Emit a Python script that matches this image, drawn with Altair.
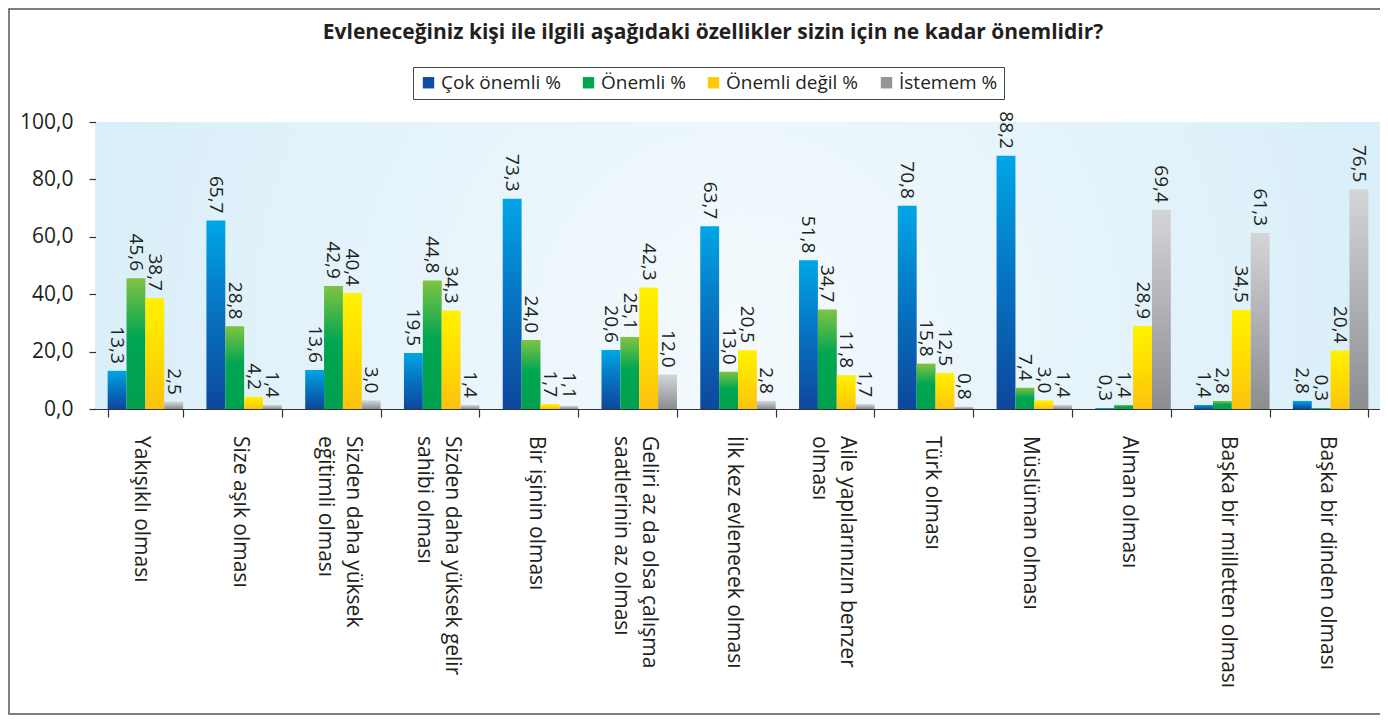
import altair as alt
import pandas as pd

# ---- data ----
categories = [
    "Yakışıklı olması",
    "Size aşık olması",
    "Sizden daha yüksek|eğitimli olması",
    "Sizden daha yüksek gelir|sahibi olması",
    "Bir işinin olması",
    "Geliri az da olsa çalışma|saatlerinin az olması",
    "İlk kez evlenecek olması",
    "Aile yapılarınızın benzer|olması",
    "Türk olması",
    "Müslüman olması",
    "Alman olması",
    "Başka bir milletten olması",
    "Başka bir dinden olması",
]
cok_onemli = [13.3, 65.7, 13.6, 19.5, 73.3, 20.6, 63.7, 51.8, 70.8, 88.2, 0.3, 1.4, 2.8]
onemli = [45.6, 28.8, 42.9, 44.8, 24.0, 25.1, 13.0, 34.7, 15.8, 7.4, 1.4, 2.8, 0.3]
onemli_degil = [38.7, 4.2, 40.4, 34.3, 1.7, 42.3, 20.5, 11.8, 12.5, 3.0, 28.9, 34.5, 20.4]
istemem = [2.5, 1.4, 3.0, 1.4, 1.1, 12.0, 2.8, 1.7, 0.8, 1.4, 69.4, 61.3, 76.5]

series_names = ["Çok önemli %", "Önemli %", "Önemli değil %", "İstemem %"]
legend_colors = ["#0d4ea2", "#00a651", "#ffcb05", "#939598"]
y_ticks = [0, 20, 40, 60, 80, 100]
title_text = "Evleneceğiniz kişi ile ilgili aşağıdaki özellikler sizin için ne kadar önemlidir?"

series_values = [cok_onemli, onemli, onemli_degil, istemem]
rows = []
for i, c in enumerate(categories):
    for s, vals in zip(series_names, series_values):
        rows.append({"category": c, "series": s, "value": vals[i]})
df = pd.DataFrame(rows)

# category tick-label lines (split where the reference wraps)
label_rows = []
for c in categories:
    parts = c.split("|")
    if len(parts) == 1:
        label_rows.append({"category": c, "line": parts[0], "kind": "single"})
    else:
        label_rows.append({"category": c, "line": parts[0], "kind": "first"})
        label_rows.append({"category": c, "line": parts[1], "kind": "second"})
label_df = pd.DataFrame(label_rows)

FONT = "Open Sans"
TEXT = "#231f20"

gradients = {
    "Çok önemli %": [("#00a6e6", 0.0), ("#0672c0", 0.5), ("#0e479c", 1.0)],
    "Önemli %": [("#80c342", 0.0), ("#00a651", 0.45), ("#00a04e", 1.0)],
    "Önemli değil %": [("#fff200", 0.0), ("#ffdc00", 0.5), ("#fdc20f", 1.0)],
    "İstemem %": [("#d4d5d7", 0.0), ("#b0b1b4", 0.5), ("#8b8d90", 1.0)],
}


def lin(stops):
    return {
        "gradient": "linear",
        "x1": 0, "y1": 0, "x2": 0, "y2": 1,
        "stops": [{"offset": o, "color": c} for c, o in stops],
    }


x_enc = alt.X(
    "category:N",
    sort=categories,
    scale=alt.Scale(paddingInner=0.236, paddingOuter=0.118),
    axis=alt.Axis(
        title=None,
        labels=False,
        tickBand="extent",
        tickSize=8,
    ),
)
y_enc = alt.Y(
    "value:Q",
    scale=alt.Scale(domain=[0, 100], nice=False),
    axis=alt.Axis(
        title=None,
        values=y_ticks,
        labelExpr="replace(format(datum.value, '.1f'), '.', ',')",
        tickSize=7,
        labelPadding=16,
        labelFontSize=21,
        grid=False,
    ),
)
xo_enc = alt.XOffset("series:N", scale=alt.Scale(domain=series_names), sort=series_names)

base = (
    alt.Chart(df)
    .transform_calculate(label="replace(format(datum.value, '.1f'), '.', ',')")
    .encode(x=x_enc, xOffset=xo_enc, y=y_enc)
)

one = pd.DataFrame({"k": [0]})
background = alt.Chart(one).mark_rect(
    fill={
        "gradient": "radial",
        "x1": 0.5, "y1": 0.55, "r1": 0,
        "x2": 0.5, "y2": 0.55, "r2": 0.75,
        "stops": [
            {"offset": 0, "color": "#f4fafd"},
            {"offset": 1, "color": "#cde9f7"},
        ],
    }
).encode(x=alt.value(0), x2=alt.value("width"), y=alt.value(0), y2=alt.value("height"))

legend_layer = base.mark_bar(opacity=0).encode(
    color=alt.Color(
        "series:N",
        scale=alt.Scale(domain=series_names, range=legend_colors),
        legend=alt.Legend(
            title=None,
            orient="none",
            legendX=317,
            legendY=-55,
            direction="horizontal",
            columns=4,
            symbolType="square",
            symbolSize=130,
            symbolOpacity=1,
            symbolStrokeWidth=0,
            labelFontSize=19,
            labelFont=FONT,
            labelColor=TEXT,
            strokeColor="#444",
            padding=6,
            columnPadding=18,
            labelOffset=3,
        ),
    )
)

grad_layers = [
    base.transform_filter(alt.datum.series == s).mark_bar(color=lin(gradients[s]))
    for s in series_names
]

labels = base.mark_text(
    angle=90, align="right", baseline="middle", dx=-7, fontSize=19, font=FONT, color=TEXT
).encode(text="label:N")

# category labels under the axis, rotated like the reference
cat_layers = [
    alt.Chart(label_df)
    .transform_filter(alt.datum.kind == kind)
    .mark_text(angle=90, align="left", baseline="middle", dy=shift,
               fontSize=21, font=FONT, color=TEXT)
    .encode(x=x_enc, y=alt.value(314), text="line:N")
    for kind, shift in [("single", 4), ("first", -10), ("second", 18)]
]

frame = alt.Chart(one).mark_rect(filled=False, stroke="#555", strokeWidth=1.5).encode(
    x=alt.value(-87), x2=alt.value(1400), y=alt.value(-113), y2=alt.value(592)
)

chart = (
    alt.layer(background, legend_layer, *grad_layers, labels, *cat_layers, frame)
    .properties(
        width=1284,
        height=287,
        padding={"left": 88, "top": 114, "right": 0, "bottom": 306},
        autosize=alt.AutoSizeParams(type="none"),
        title=alt.Title(
            title_text,
            fontSize=21,
            fontWeight="bold",
            font=FONT,
            color=TEXT,
            anchor="middle",
            dx=-25,
            offset=-35,
        ),
    )
    .configure_view(stroke=None)
    .configure_axis(
        labelFont=FONT,
        labelColor=TEXT,
        domainColor="#333",
        tickColor="#333",
        domainWidth=1.2,
        tickWidth=1.2,
    )
)

chart.save("out.html", embed_options={"renderer": "svg", "actions": False})
